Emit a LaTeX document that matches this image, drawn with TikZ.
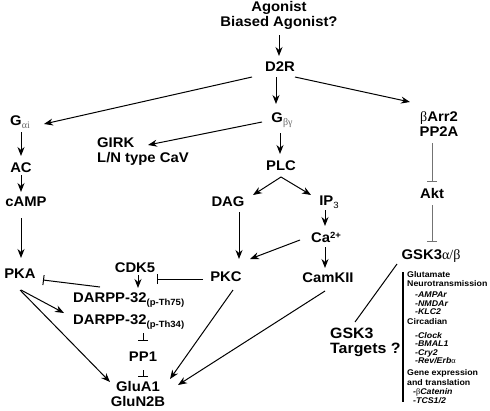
\documentclass[tikz,border=0pt]{standalone}
\usepackage{fontspec}
\setmainfont{Liberation Sans}[FakeStretch=1.06]
\newfontfamily\grk{Liberation Serif}
\usetikzlibrary{arrows.meta}
\tikzset{
 lbl/.style={font=\fontsize{14}{15}\selectfont\bfseries, inner sep=0pt, align=center},
 tiny/.style={font=\fontsize{8.3}{9}\selectfont\bfseries, inner sep=0pt, anchor=west},
 arr/.style={-{Stealth[length=9pt,width=7pt]}, line width=1pt},
 inh/.style={-{Bar[width=10pt,line width=1pt]}, line width=1pt},
 ginh/.style={inh, draw=black!55},
 plain/.style={line width=1pt},
}
\newcommand\sbx[1]{\raisebox{-2.5pt}{\fontsize{9}{9}\selectfont #1}}
\newcommand\gsub[1]{\raisebox{-2.5pt}{\fontsize{10}{10}\selectfont\grk\mdseries\color{black!60}#1}}
\begin{document}
\begin{tikzpicture}[x=1pt,y=-1pt]
\useasboundingbox (0,0) rectangle (490,410);
% nodes
\node[lbl] (ag) at (279,15) {Agonist\\Biased Agonist?};
\node[lbl] (d2r) at (280,67) {D2R};
\node[lbl] (gai) at (20,122) {G\gsub{αi}};
\node[lbl] (gbg) at (282,120) {G\gsub{βγ}};
\node[lbl] (barr) at (439,124) {{\grk\mdseries β}Arr2\\PP2A};
\node[lbl,anchor=west,align=left] (girk) at (97,152) {GIRK\\L/N type CaV};
\node[lbl] (ac) at (21,168) {AC};
\node[lbl] (camp) at (26,202) {cAMP};
\node[lbl] (pka) at (20,274) {PKA};
\node[lbl] (plc) at (281,166) {PLC};
\node[lbl] (dag) at (228,202) {DAG};
\node[lbl] (ip3) at (329,202) {IP\sbx{\mdseries 3}};
\node[lbl] (ca) at (326,237) {Ca\raisebox{4pt}{\fontsize{9}{9}\selectfont 2+}};
\node[lbl] (pkc) at (226,277) {PKC};
\node[lbl] (camk) at (328,278) {CamKII};
\node[lbl] (cdk5) at (135,268) {CDK5};
\node[lbl,anchor=west] (d75) at (73,300) {DARPP-32\sbx{(p-Th75)}};
\node[lbl,anchor=west] (d34) at (73,322) {DARPP-32\sbx{(p-Th34)}};
\node[lbl] (pp1) at (143,357) {PP1};
\node[lbl] (glu) at (138,394) {GluA1\\GluN2B};
\node[lbl] (akt) at (432,193) {Akt};
\node[lbl] (gsk) at (431,256) {GSK3{\grk\mdseries α/β}};
\node[lbl,anchor=west,align=left,font=\fontsize{15}{15}\selectfont\bfseries] (tgt) at (330,342) {GSK3\\Targets ?};
% target list
\draw[line width=2pt] (403,272) -- (403,402);
\node[tiny] (t1) at (407,275) {Glutamate};
\node[tiny] (t2) at (407,284) {Neurotransmission};
\node[tiny] (t3) at (415,295) {\itshape -AMPAr};
\node[tiny] (t4) at (415,304) {\itshape -NMDAr};
\node[tiny] (t5) at (415,312) {\itshape -KLC2};
\node[tiny] (t6) at (407,322) {Circadian};
\node[tiny] (t7) at (415,336) {\itshape -Clock};
\node[tiny] (t8) at (415,344) {\itshape -BMAL1};
\node[tiny] (t9) at (415,353) {\itshape -Cry2};
\node[tiny] (t10) at (415,361) {\itshape -Rev/Erb{\grk\upshape\mdseries α}};
\node[tiny] (t11) at (407,373) {Gene expression};
\node[tiny] (t12) at (407,383) {and translation};
\node[tiny] (t13) at (413,392) {\itshape -{\grk\upshape\mdseries β}Catenin};
\node[tiny] (t14) at (413,401) {\itshape -TCS1/2};
% connectors
\draw[arr] ([shift={(0,20)}]ag.center) -- ([shift={(-1,-11)}]d2r.center);
\draw[arr] ([shift={(-28,10)}]d2r.center) -- ([shift={(24,2)}]gai.center);
\draw[arr] ([shift={(-4,10)}]d2r.center) -- ([shift={(-6,-16)}]gbg.center);
\draw[arr] ([shift={(15,10)}]d2r.center) -- ([shift={(-29,-22)}]barr.center);
\draw[arr] ([shift={(-20,2)}]gbg.center) -- ([shift={(51,-7)}]girk.west);
\draw[arr] ([shift={(1,10)}]gai.center) -- ([shift={(0,-12)}]ac.center);
\draw[arr] ([shift={(0,7)}]ac.center) -- ([shift={(-5,-10)}]camp.center);
\draw[arr] ([shift={(-5,16)}]camp.center) -- ([shift={(1,-16)}]pka.center);
\draw[arr] ([shift={(-2,13)}]gbg.center) -- ([shift={(-1,-12)}]plc.center);
\draw[arr] ([shift={(0,11)}]plc.center) -- ([shift={(25,-7)}]dag.center);
\draw[arr] ([shift={(0,11)}]plc.center) -- ([shift={(-18,-7)}]ip3.center);
\draw[arr] ([shift={(11,10)}]dag.center) -- ([shift={(13,-18)}]pkc.center);
\draw[arr] ([shift={(-4,8)}]ip3.center) -- ([shift={(-1,-11)}]ca.center);
\draw[arr] ([shift={(-26,3)}]ca.center) -- ([shift={(24,-18)}]pkc.center);
\draw[arr] ([shift={(-1,10)}]ca.center) -- ([shift={(-3,-10)}]camk.center);
\draw[inh] ([shift={(-23,2)}]pkc.center) -- ([shift={(22,11)}]cdk5.center);
\draw[arr] ([shift={(3,7)}]cdk5.center) -- ([shift={(65,-12)}]d75.west);
\draw[inh] ([shift={(27,-13)}]d75.west) -- ([shift={(23,6)}]pka.center);
\draw[arr] ([shift={(1,16)}]pka.center) -- ([shift={(-9,-9)}]d34.west);
\draw[arr] ([shift={(0,16)}]pka.center) -- ([shift={(-28,-12)}]glu.center);
\draw[inh] ([shift={(70,11)}]d34.west) -- ([shift={(0,-16)}]pp1.center);
\draw[inh] ([shift={(0,13)}]pp1.center) -- ([shift={(5,-17)}]glu.center);
\draw[arr] ([shift={(7,13)}]pkc.center) -- ([shift={(32,-15)}]glu.center);
\draw[arr] ([shift={(-3,13)}]camk.center) -- ([shift={(40,-9)}]glu.center);
\draw[ginh] ([shift={(-7,19)}]barr.center) -- ([shift={(0,-11)}]akt.center);
\draw[ginh] ([shift={(0,12)}]akt.center) -- ([shift={(1,-14)}]gsk.center);
\draw[plain] ([shift={(-34,8)}]gsk.center) -- ([shift={(25,-20)}]tgt.west);
\end{tikzpicture}
\end{document}
